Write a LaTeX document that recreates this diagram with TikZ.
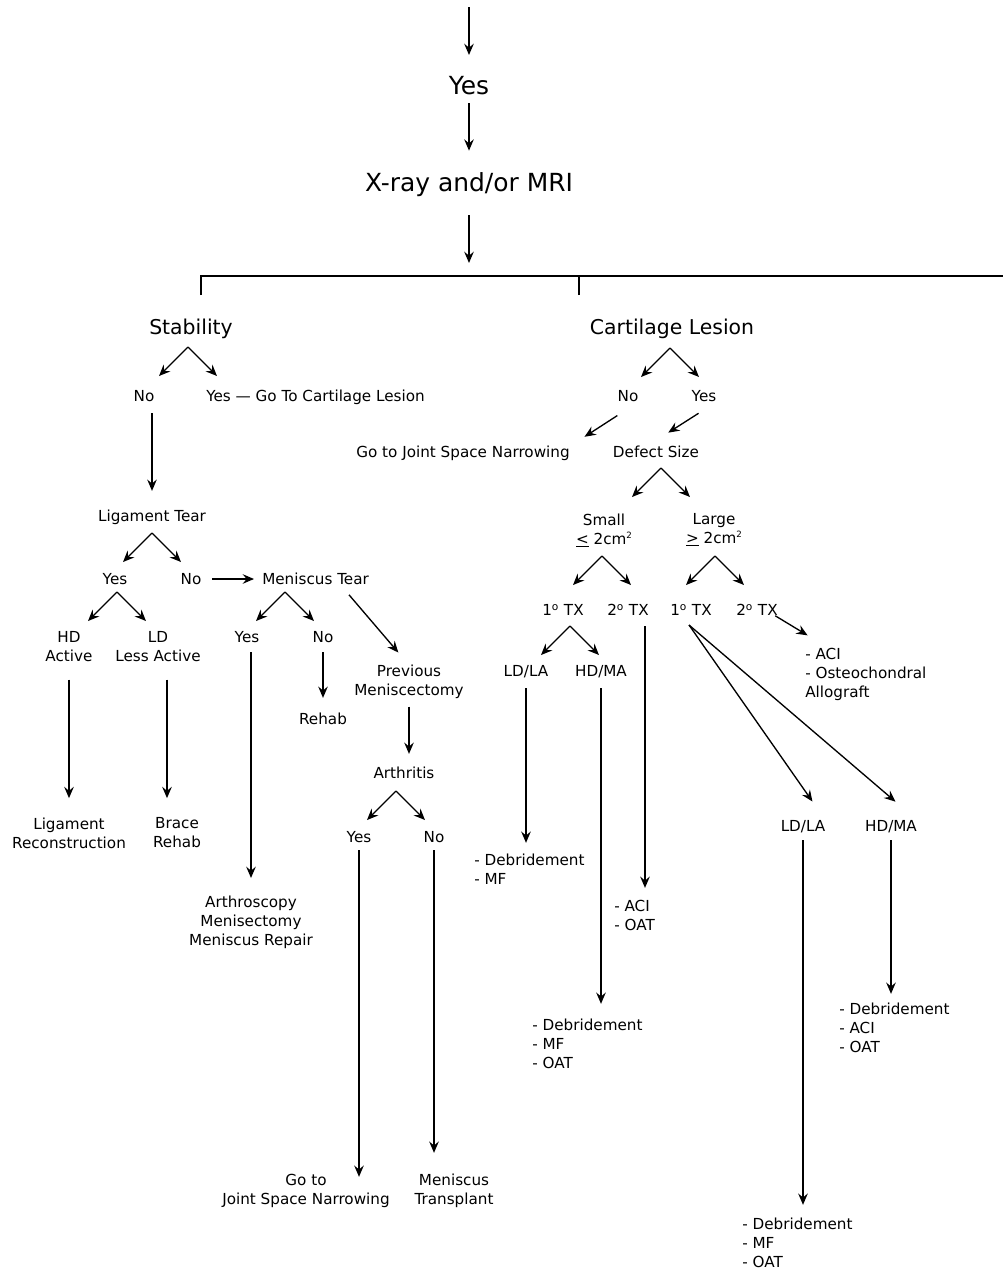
\documentclass[tikz,border=0pt]{standalone}
\usepackage{fontspec}
\setmainfont{DejaVu Sans}
\usetikzlibrary{arrows.meta,calc}

\tikzset{
  big/.style={font=\fontsize{18.7pt}{22pt}\selectfont, inner sep=0pt, text height=13.6pt, text depth=0pt},
  head/.style={font=\fontsize{15.3pt}{18pt}\selectfont, inner sep=0pt, text height=11.1pt, text depth=0pt},
  lbl/.style={font=\fontsize{11.4pt}{14.25pt}\selectfont, inner sep=0pt, text height=8.3pt, text depth=0pt},
  blk/.style={font=\fontsize{11.4pt}{14.25pt}\selectfont, inner sep=0pt, align=center, anchor=north},
  lst/.style={font=\fontsize{11.4pt}{14.25pt}\selectfont, inner sep=0pt, align=left, anchor=north west},
  arr/.style={line width=1pt, -{Stealth[length=8.5pt,width=7.2pt,inset=3pt]}},
  link/.style={arr, shorten <=8pt, shorten >=10pt},
  bar/.style={line width=1.2pt},
}
% two arrows fanning out below a fork point
\newcommand{\branchpair}[1]{%
  \draw[arr] (#1) -- ++(-29,29);
  \draw[arr] (#1) -- ++(29,29);}
\newcommand{\sqcm}{2cm\raisebox{0.75ex}{\fontsize{6.5pt}{6.5pt}\selectfont 2}}

\begin{document}
\begin{tikzpicture}[x=0.75pt,y=-0.75pt]
\useasboundingbox (0,0) rectangle (1003,1272);

% top
\coordinate (entry) at (469,7);
\node[big] (yesTop) at (469,85) {Yes};
\node[big] (xray) at (469,182) {X-ray and/or MRI};
\coordinate (hub) at (469,276);
\draw[link, shorten <=0pt, shorten >=15.5pt] (entry) -- (entry |- yesTop.north);
\draw[link, shorten <=6.75pt, shorten >=16.5pt] (yesTop.south) -- (yesTop.south |- xray.north);
\draw[link, shorten <=18pt, shorten >=9.75pt] (xray.south) -- (xray.south |- hub);

\coordinate (dropL) at (201,295);
\coordinate (dropR) at (579,295);
\coordinate (barEnd) at (1003,276);
\draw[bar] (dropL) |- (barEnd);
\draw[bar] (dropR) -- (dropR |- barEnd);

% stability
\node[head] (stab) at (191,327) {Stability};
\coordinate (fStab) at (188,347); \branchpair{fStab}
\node[lbl] (stabNo) at (144,396) {No};
\node[lbl, anchor=west] (stabYes) at (206,396) {Yes \textemdash{} Go To Cartilage Lesion};

\node[lbl] (ligTear) at (152,516) {Ligament Tear};
\draw[link, shorten <=8.5pt, shorten >=14.5pt] (stabNo.south -| ligTear.north) -- (ligTear.north);
\coordinate (fLig) at (152,533); \branchpair{fLig}
\node[lbl] (ligYes) at (115,579) {Yes};
\node[lbl] (ligNo) at (191,579) {No};
\node[lbl, anchor=west] (menTear) at (262,579) {Meniscus Tear};
\draw[link, shorten <=8pt, shorten >=6pt] (ligNo) -- (menTear);

\coordinate (fLigYes) at (117,592); \branchpair{fLigYes}
\node[blk] (hd) at (69,631.5) {HD\\Active};
\node[blk] (ld) at (158,631.5) {LD\\Less Active};
\node[blk] (ligRec) at (69,817.5) {Ligament\\Reconstruction};
\node[blk] (brace) at (177,817.5) {Brace\\Rehab};
\draw[link, shorten <=13pt, shorten >=14.5pt] (hd.south) -- (hd.south |- ligRec.north);
\draw[link, shorten <=13pt, shorten >=14.5pt] ([xshift=6.75pt]ld.south) -- ([xshift=6.75pt]ld.south |- brace.north);

\coordinate (fMen) at (285,592); \branchpair{fMen}
\node[lbl] (menYes) at (247,637) {Yes};
\node[lbl] (menNo) at (323,637) {No};
\node[lbl] (rehab) at (323,719) {Rehab};
\node[blk] (arthro) at (251,896) {Arthroscopy\\Menisectomy\\Meniscus Repair};
\draw[link, shorten <=7pt, shorten >=13.5pt] (menYes.south -| arthro.north) -- (arthro.north);
\draw[link, shorten <=7pt, shorten >=11.5pt] (menNo) -- (rehab);

\node[blk] (prevMen) at (409,665) {Previous\\Meniscectomy};
\draw[link, shorten <=0pt, shorten >=12.3pt] ([shift={(87,10)}]menTear.south west) -- (prevMen.north);
\node[lbl] (arth) at (404,773) {Arthritis};
\draw[link, shorten <=5.5pt, shorten >=10pt] (prevMen.south) -- (prevMen.south |- arth.north);

\coordinate (fArth) at (396,791); \branchpair{fArth}
\node[lbl] (arthYes) at (359,837) {Yes};
\node[lbl] (arthNo) at (434,837) {No};
\node[blk] (goJsn) at (306,1173.5) {Go to\\Joint Space Narrowing};
\node[blk] (menTrans) at (454,1173.5) {Meniscus\\Transplant};
\draw[link, shorten <=5.5pt, shorten >=-2.5pt] (arthYes.south) -- (arthYes.south |- goJsn.north);
\draw[link, shorten <=5.5pt, shorten >=15.5pt] (arthNo.south) -- (arthNo.south |- menTrans.north);

% cartilage lesion
\node[head] (cart) at (672,327) {Cartilage Lesion};
\coordinate (fCart) at (670,348); \branchpair{fCart}
\node[lbl] (cartNo) at (628,396) {No};
\node[lbl] (cartYes) at (704,396) {Yes};
\node[lbl] (jsn) at (463,452) {Go to Joint Space Narrowing};
\node[lbl] (defect) at (656,452) {Defect Size};
\draw[link, shorten <=19pt, shorten >=13pt] (cartNo.south east) -- (jsn.north east);
\draw[link, shorten <=16pt, shorten >=18.9pt] (cartYes.south east) -- ([xshift=-6.75pt]defect.north);

\coordinate (fDef) at (661,468); \branchpair{fDef}
\node[blk] (small) at (604,513.5) {Small\\\underline{<} \sqcm};
\node[blk] (large) at (714,513.5) {Large\\\underline{>} \sqcm};

\coordinate (fSmall) at (602,556); \branchpair{fSmall}
\coordinate (fLarge) at (715,556); \branchpair{fLarge}
\node[lbl] (sTxA) at (563,610) {1\textsuperscript{o} TX};
\node[lbl] (sTxB) at (628,610) {2\textsuperscript{o} TX};
\node[lbl] (lTxA) at (691,610) {1\textsuperscript{o} TX};
\node[lbl] (lTxB) at (757,610) {2\textsuperscript{o} TX};

\coordinate (fTx) at (570,626); \branchpair{fTx}
\node[lbl] (sLd) at (526,671) {LD/LA};
\node[lbl] (sHd) at (601,671) {HD/MA};
\node[lst] (sDeb) at (474,853.5) {- Debridement\\- MF};
\node[lst] (sHdDeb) at (532,1018.5) {- Debridement\\- MF\\- OAT};
\node[lst] (sAci) at (614,899.5) {- ACI\\- OAT};
\draw[link, shorten <=8.5pt, shorten >=8pt] (sLd.south) -- (sLd.south |- sDeb.north);
\draw[link, shorten <=8.5pt, shorten >=11pt] (sHd.south) -- (sHd.south |- sHdDeb.north);
\draw[link, shorten <=8pt, shorten >=8.7pt] ([xshift=12.75pt]sTxB.south) -- ([xshift=12.75pt]sTxB.south |- sAci.north);

\node[lst] (lAci) at (805,647.5) {- ACI\\- Osteochondral\\Allograft};
\draw[link, shorten <=0pt, shorten >=17.6pt] ([xshift=-2pt]lTxB.south east) -- ([xshift=17pt]lAci.north west);

\coordinate (lTxFan) at (689,625);
\node[lbl] (lLd) at (803,826) {LD/LA};
\node[lbl] (lHd) at (891,826) {HD/MA};
\draw[link, shorten <=0pt, shorten >=17.1pt] (lTxFan) -- (lLd.north east);
\draw[link, shorten <=0pt, shorten >=21.4pt] (lTxFan) -- (lHd.north east);
\node[lst] (lDeb) at (839,1002.5) {- Debridement\\- ACI\\- OAT};
\node[lst] (lDeb2) at (742,1217.5) {- Debridement\\- MF\\- OAT};
\draw[link, shorten <=6.5pt, shorten >=9.5pt] (lLd.south) -- (lLd.south |- lDeb2.north);
\draw[link, shorten <=6.5pt, shorten >=6.5pt] (lHd.south) -- (lHd.south |- lDeb.north);
\end{tikzpicture}
\end{document}
